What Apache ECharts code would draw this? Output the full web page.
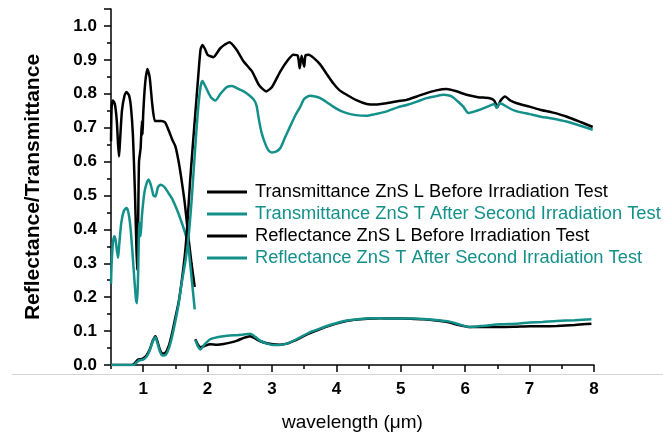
<!DOCTYPE html>
<html>
<head>
<meta charset="utf-8">
<script src="https://cdn.jsdelivr.net/npm/echarts@6/dist/echarts.min.js"></script>
<style>html,body{margin:0;padding:0;background:#fff}#c{width:663px;height:437px}</style>
</head>
<body>
<div id="c"></div>
<script>
const seriesNames = [
  'Transmittance ZnS L Before Irradiation Test',
  'Transmittance ZnS T After Second Irradiation Test',
  'Reflectance ZnS L Before Irradiation Test',
  'Reflectance ZnS T After Second Irradiation Test'
];
const xMajorTicks = [1, 2, 3, 4, 5, 6, 7, 8];

// Transmittance, before (black): visible high branch to 1.8 um, then low branch
const transBefore = [
  [0.5,0.66],[0.51,0.76],[0.53,0.78],[0.56,0.77],[0.59,0.72],[0.61,0.65],[0.625,0.615],[0.64,0.66],
  [0.67,0.75],[0.71,0.795],[0.74,0.805],[0.78,0.795],[0.81,0.76],[0.84,0.68],[0.87,0.52],[0.89,0.38],
  [0.905,0.28],[0.92,0.4],[0.935,0.6],[0.96,0.64],[0.98,0.72],[0.99,0.68],[1.0,0.74],[1.03,0.83],
  [1.065,0.873],[1.1,0.85],[1.14,0.77],[1.18,0.72],[1.22,0.72],[1.28,0.72],[1.34,0.715],[1.4,0.69],
  [1.45,0.665],[1.5,0.645],[1.55,0.6],[1.6,0.54],[1.65,0.47],[1.7,0.38],[1.75,0.3],[1.8,0.23],
  null,
  [1.81,0.076],[1.85,0.06],[1.89,0.052],[1.95,0.056],[2.04,0.061],[2.15,0.06],[2.25,0.062],[2.35,0.066],
  [2.46,0.072],[2.56,0.08],[2.66,0.085],[2.74,0.078],[2.82,0.07],[2.92,0.064],[3.02,0.061],[3.12,0.06],
  [3.23,0.063],[3.35,0.072],[3.49,0.085],[3.62,0.096],[3.75,0.106],[3.9,0.116],[4.06,0.125],[4.2,0.131],
  [4.37,0.135],[4.55,0.137],[4.68,0.138],[4.84,0.137],[5.0,0.137],[5.2,0.136],[5.35,0.135],[5.55,0.131],
  [5.76,0.125],[5.9,0.118],[6.07,0.112],[6.3,0.112],[6.54,0.112],[6.8,0.113],[7.0,0.114],[7.2,0.114],
  [7.42,0.115],[7.7,0.118],[7.96,0.122]
];

// Transmittance, after (teal)
const transAfter = [
  [0.5,0.24],[0.51,0.3],[0.53,0.36],[0.55,0.38],[0.57,0.37],[0.59,0.34],[0.61,0.316],[0.63,0.36],
  [0.66,0.42],[0.7,0.455],[0.74,0.463],[0.77,0.45],[0.8,0.41],[0.83,0.34],[0.86,0.26],[0.89,0.19],
  [0.905,0.182],[0.92,0.26],[0.94,0.42],[0.96,0.38],[0.98,0.44],[1.02,0.51],[1.06,0.54],[1.085,0.547],
  [1.12,0.53],[1.16,0.5],[1.19,0.497],[1.23,0.525],[1.27,0.532],[1.33,0.525],[1.4,0.505],[1.45,0.49],
  [1.52,0.46],[1.58,0.43],[1.65,0.39],[1.7,0.35],[1.75,0.26],[1.8,0.164],
  null,
  [1.81,0.073],[1.85,0.055],[1.89,0.046],[1.95,0.06],[2.04,0.076],[2.15,0.082],[2.25,0.085],[2.35,0.087],
  [2.46,0.088],[2.56,0.09],[2.66,0.092],[2.74,0.083],[2.82,0.071],[2.92,0.063],[3.02,0.059],[3.12,0.059],
  [3.23,0.063],[3.35,0.073],[3.49,0.087],[3.62,0.099],[3.75,0.108],[3.9,0.118],[4.06,0.127],[4.2,0.132],
  [4.37,0.136],[4.55,0.138],[4.68,0.138],[4.84,0.137],[5.0,0.137],[5.2,0.137],[5.35,0.136],[5.55,0.133],
  [5.76,0.128],[5.9,0.12],[6.07,0.112],[6.3,0.116],[6.54,0.12],[6.8,0.122],[7.0,0.125],[7.2,0.127],
  [7.42,0.13],[7.7,0.132],[7.96,0.135]
];

// Reflectance, before (black)
const reflBefore = [
  [0.5,0.0],[0.6,0.0],[0.7,0.0],[0.8,0.0],[0.85,0.002],[0.88,0.008],[0.92,0.016],[0.96,0.017],
  [1.0,0.02],[1.05,0.028],[1.1,0.045],[1.15,0.072],[1.19,0.085],[1.22,0.07],[1.26,0.045],[1.3,0.034],
  [1.34,0.035],[1.4,0.058],[1.45,0.095],[1.5,0.14],[1.55,0.185],[1.6,0.25],[1.65,0.33],[1.68,0.4],
  [1.73,0.547],[1.8,0.72],[1.85,0.84],[1.89,0.93],[1.92,0.944],[1.96,0.932],[2.0,0.915],[2.09,0.908],
  [2.2,0.935],[2.34,0.952],[2.45,0.93],[2.56,0.895],[2.69,0.866],[2.8,0.825],[2.91,0.807],[3.0,0.82],
  [3.13,0.866],[3.25,0.9],[3.33,0.915],[3.4,0.912],[3.43,0.875],[3.46,0.912],[3.5,0.88],[3.52,0.913],
  [3.57,0.915],[3.65,0.905],[3.75,0.886],[3.85,0.858],[3.95,0.831],[4.05,0.81],[4.16,0.797],[4.3,0.782],
  [4.47,0.77],[4.6,0.768],[4.78,0.772],[4.95,0.778],[5.09,0.782],[5.25,0.792],[5.4,0.802],[5.55,0.81],
  [5.71,0.814],[5.85,0.808],[6.02,0.797],[6.2,0.79],[6.38,0.787],[6.45,0.78],[6.5,0.761],[6.55,0.78],
  [6.62,0.792],[6.7,0.78],[6.8,0.772],[7.0,0.762],[7.16,0.753],[7.35,0.745],[7.57,0.733],[7.8,0.716],
  [7.98,0.702]
];

// Reflectance, after (teal)
const reflAfter = [
  [0.5,0.0],[0.6,0.0],[0.7,0.0],[0.85,0.0],[0.9,0.008],[0.94,0.014],[1.0,0.016],[1.05,0.024],
  [1.1,0.042],[1.15,0.07],[1.19,0.082],[1.22,0.065],[1.26,0.04],[1.3,0.028],[1.35,0.03],[1.4,0.05],
  [1.45,0.085],[1.5,0.13],[1.55,0.18],[1.6,0.245],[1.65,0.3],[1.7,0.37],[1.75,0.48],[1.8,0.62],
  [1.85,0.75],[1.89,0.82],[1.92,0.838],[1.97,0.82],[2.05,0.79],[2.12,0.78],[2.2,0.8],[2.3,0.82],
  [2.38,0.823],[2.47,0.815],[2.56,0.807],[2.65,0.795],[2.72,0.782],[2.76,0.765],[2.8,0.72],[2.84,0.684],
  [2.9,0.65],[2.95,0.632],[3.0,0.627],[3.07,0.63],[3.13,0.64],[3.2,0.67],[3.28,0.703],[3.36,0.735],
  [3.44,0.762],[3.5,0.785],[3.59,0.794],[3.67,0.792],[3.75,0.787],[3.85,0.775],[3.95,0.762],[4.05,0.751],
  [4.16,0.743],[4.3,0.737],[4.47,0.735],[4.6,0.74],[4.78,0.748],[4.95,0.76],[5.09,0.767],[5.25,0.777],
  [5.4,0.787],[5.55,0.793],[5.66,0.797],[5.75,0.795],[5.81,0.79],[5.9,0.775],[5.97,0.762],[6.05,0.743],
  [6.15,0.748],[6.23,0.753],[6.32,0.76],[6.41,0.767],[6.45,0.77],[6.49,0.758],[6.53,0.772],[6.57,0.77],
  [6.68,0.758],[6.8,0.748],[7.0,0.74],[7.16,0.733],[7.35,0.727],[7.57,0.718],[7.8,0.705],[7.98,0.694]
];

const BLACK = '#000000';
const TEAL = '#14908a';
const FONT = 'Liberation Sans, Arial, sans-serif';

const chart = echarts.init(document.getElementById('c'), null, {renderer: 'canvas'});

function mk(name, data, color) {
  return {
    name: name, type: 'line', data: data, xAxisIndex: 0, yAxisIndex: 0,
    showSymbol: false, symbol: 'none', smooth: 0.2, connectNulls: false,
    lineStyle: {color: color, width: 2.5}, itemStyle: {color: color},
    emphasis: {disabled: true}, animation: false
  };
}

chart.setOption({
  animation: false,
  backgroundColor: '#fff',
  textStyle: {fontFamily: FONT},
  grid: {left: 111, right: 69, top: 9, bottom: 71},
  graphic: [{
    type: 'line', silent: true, z: -1,
    shape: {x1: 12, y1: 374.5, x2: 663, y2: 374.5},
    style: {stroke: '#d4d4d4', lineWidth: 1}
  }],
  legend: {
    orient: 'vertical', left: 207, top: 181, padding: 0, itemGap: 0,
    icon: 'rect', itemWidth: 40, itemHeight: 3,
    selectedMode: false,
    textStyle: {fontSize: 18.3, lineHeight: 22, fontFamily: FONT, padding: [0, 0, 0, 3]},
    data: [
      {name: seriesNames[0], textStyle: {color: BLACK}},
      {name: seriesNames[1], textStyle: {color: TEAL}},
      {name: seriesNames[2], textStyle: {color: BLACK}},
      {name: seriesNames[3], textStyle: {color: TEAL}}
    ]
  },
  xAxis: [{
    type: 'value', min: 0.5, max: 8, interval: 0.5, position: 'bottom',
    name: 'wavelength (\u03bcm)', nameLocation: 'middle', nameGap: 48,
    nameTextStyle: {fontSize: 19, color: '#000', fontFamily: FONT},
    axisLine: {show: true, onZero: false, lineStyle: {color: '#000', width: 1.5}},
    axisTick: {show: true, length: 4, lineStyle: {color: '#000', width: 1.5}},
    axisLabel: {
      interval: 0, margin: 16, fontSize: 17, fontWeight: 'bold', color: '#000', fontFamily: FONT,
      formatter: function (v) { return Math.abs(v - Math.round(v)) < 1e-6 ? String(Math.round(v)) : ''; }
    },
    splitLine: {show: false}
  }, {
    type: 'value', min: 0.5, max: 8, position: 'bottom', offset: 0,
    axisLine: {show: false},
    axisTick: {show: true, length: 7, customValues: xMajorTicks, lineStyle: {color: '#000', width: 1.5}},
    axisLabel: {show: false},
    splitLine: {show: false}
  }],
  yAxis: [{
    type: 'value', min: 0, max: 1.05, interval: 0.1,
    name: 'Reflectance/Transmittance', nameLocation: 'middle', nameGap: 67,
    nameTextStyle: {fontSize: 21, fontWeight: 'bold', color: '#000', fontFamily: FONT},
    axisLine: {show: true, onZero: false, lineStyle: {color: '#000', width: 1.5}},
    axisTick: {show: true, length: 7, lineStyle: {color: '#000', width: 1.5}},
    minorTick: {show: true, splitNumber: 2, length: 4, lineStyle: {color: '#000', width: 1.5}},
    axisLabel: {
      margin: 14, fontSize: 17, fontWeight: 'bold', color: '#000', fontFamily: FONT, showMaxLabel: false,
      formatter: function (v) { return v.toFixed(1); }
    },
    splitLine: {show: false}
  }],
  series: [
    mk(seriesNames[0], transBefore, BLACK),
    mk(seriesNames[1], transAfter, TEAL),
    mk(seriesNames[2], reflBefore, BLACK),
    mk(seriesNames[3], reflAfter, TEAL)
  ]
});
</script>
</body>
</html>
